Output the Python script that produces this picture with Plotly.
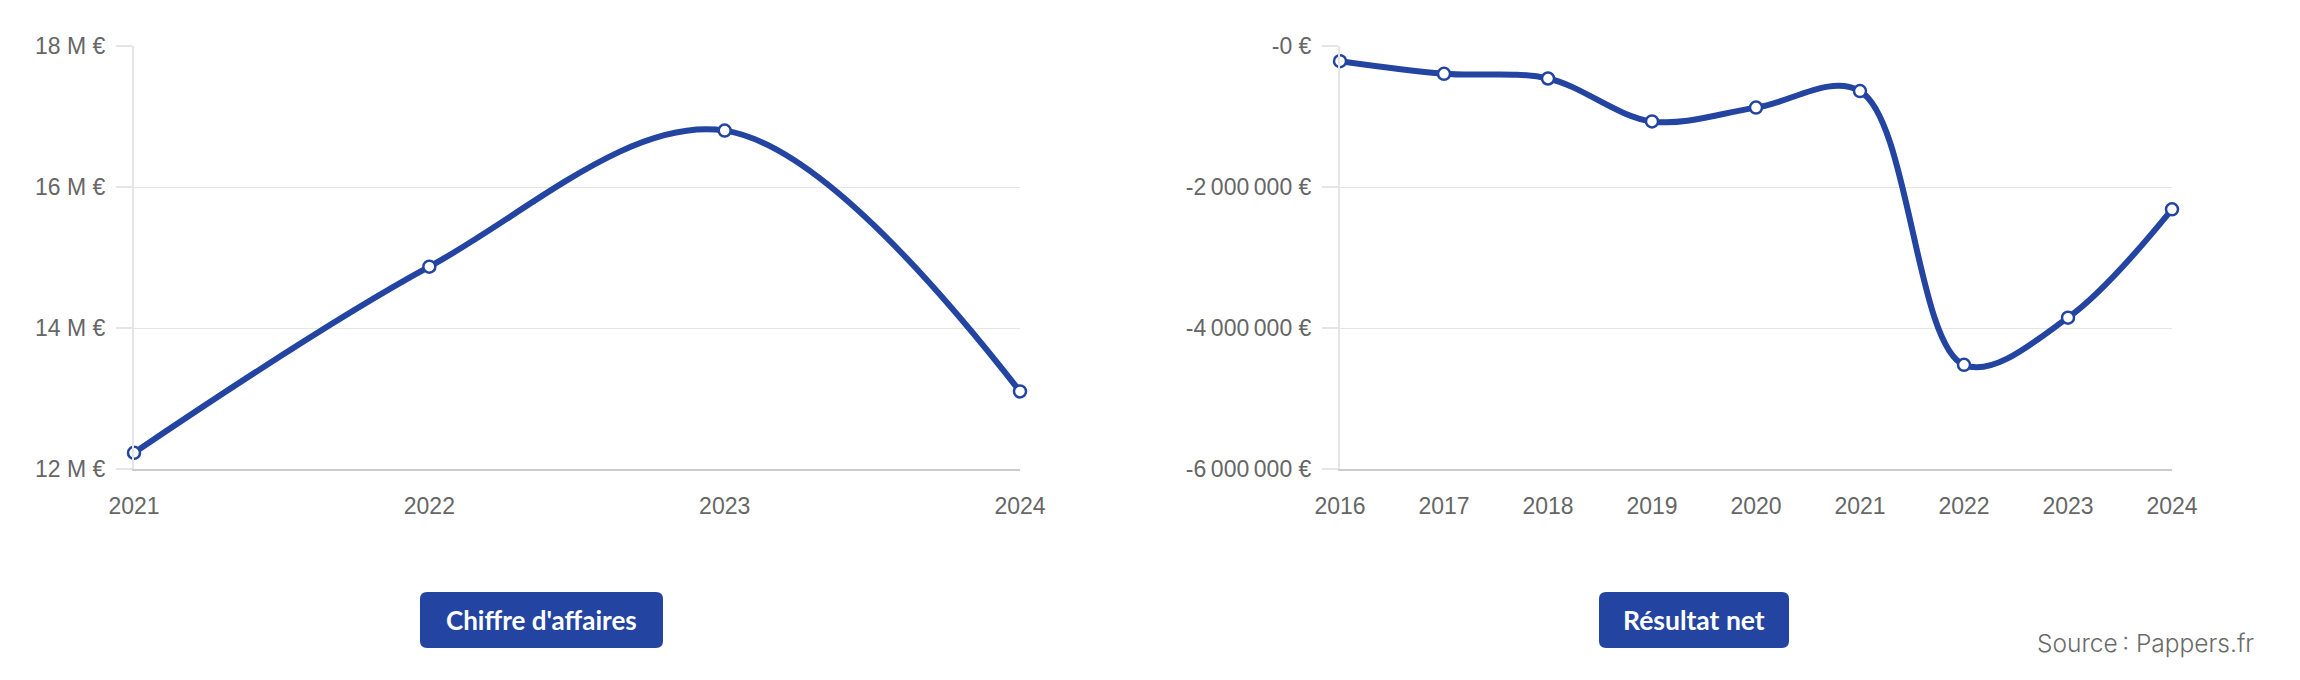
import plotly.graph_objects as go

# Chiffre d'affaires (en millions d'euros)
ca_years = [2021, 2022, 2023, 2024]
ca_values = [12.23, 14.87, 16.80, 13.10]
ca_ticks = [12, 14, 16, 18]
ca_ticktext = ["12 M €", "14 M €", "16 M €", "18 M €"]

# Résultat net (en euros)
rn_years = [2016, 2017, 2018, 2019, 2020, 2021, 2022, 2023, 2024]
rn_values = [-215000, -394000, -461000, -1070000, -874000, -640000, -4523000, -3853000, -2316000]
rn_ticks = [0, -2000000, -4000000, -6000000]
rn_ticktext = ["-0 €", "-2\u202f000\u202f000 €", "-4\u202f000\u202f000 €", "-6\u202f000\u202f000 €"]

BLUE = "#2345a1"
# the page body adds an 8px margin, so the figure is a bit smaller and every
# position below is given in page pixels then shifted by OFF
OFF = 8
W, H = 2300 - OFF, 680 - 2 * OFF


def px(x):
    return (x - OFF) / W


def py(y):
    return (H - (y - OFF)) / H


fig = go.Figure()

line_style = dict(color=BLUE, width=6, shape="spline", smoothing=1)
marker_style = dict(size=12, color="white", line=dict(color=BLUE, width=2.5))

fig.add_trace(go.Scatter(x=ca_years, y=ca_values, mode="lines+markers",
                         line=line_style, marker=marker_style, cliponaxis=False,
                         xaxis="x", yaxis="y", showlegend=False))
fig.add_trace(go.Scatter(x=rn_years, y=rn_values, mode="lines+markers",
                         line=line_style, marker=marker_style, cliponaxis=False,
                         xaxis="x2", yaxis="y2", showlegend=False))

tick_font = dict(family="Liberation Sans, Arial, sans-serif", size=23, color="#666666")
y_dom = [py(469), py(46)]

# automargin off so the domains stay where they are
xcommon = dict(showgrid=False, zeroline=False, showline=True, linecolor="#cccccc", linewidth=2,
               ticks="", tickfont=tick_font, ticklabelstandoff=15, dtick=1, automargin=False)
ycommon = dict(showgrid=True, gridcolor="#e5e5e5", gridwidth=1, zeroline=False, showline=True,
               linecolor="#e5e5e5", linewidth=2, ticks="outside", ticklen=16, tickcolor="#e5e5e5",
               tickwidth=2, tickfont=tick_font, ticklabelstandoff=6, automargin=False)

fig.update_layout(
    width=W, height=H,
    margin=dict(l=0, r=0, t=0, b=0),
    paper_bgcolor="white", plot_bgcolor="white",
    xaxis=dict(xcommon, domain=[px(134), px(1020)], range=[2021, 2024], anchor="y",
               tickvals=ca_years),
    yaxis=dict(ycommon, domain=y_dom, range=[12, 18], anchor="x",
               tickvals=ca_ticks, ticktext=ca_ticktext),
    xaxis2=dict(xcommon, domain=[px(1340), px(2172)], range=[2016, 2024], anchor="y2",
                tickvals=rn_years),
    yaxis2=dict(ycommon, domain=y_dom, range=[-6000000, 0], anchor="x2",
                tickvals=rn_ticks, ticktext=rn_ticktext),
)


def rounded_button(cx, cy, w, h, r, label, size):
    # rounded rectangle drawn in pixels around an anchor point
    hw, hh = w / 2, h / 2
    path = (f"M {-hw + r},{-hh} L {hw - r},{-hh} Q {hw},{-hh} {hw},{-hh + r} "
            f"L {hw},{hh - r} Q {hw},{hh} {hw - r},{hh} L {-hw + r},{hh} "
            f"Q {-hw},{hh} {-hw},{hh - r} L {-hw},{-hh + r} Q {-hw},{-hh} {-hw + r},{-hh} Z")
    fig.add_shape(type="path", xref="paper", yref="paper", xsizemode="pixel", ysizemode="pixel",
                  xanchor=px(cx), yanchor=py(cy), path=path,
                  fillcolor=BLUE, line=dict(width=0), layer="above")
    fig.add_annotation(x=px(cx), y=py(cy), xref="paper", yref="paper", text=label,
                       showarrow=False, xanchor="center", yanchor="middle",
                       font=dict(family="Lato, sans-serif", size=size, color="white", weight="bold"))


rounded_button(541.5, 620, 243, 56, 7, "Chiffre d'affaires", 26)
rounded_button(1694, 620, 190, 56, 7, "Résultat net", 26.5)

fig.add_annotation(x=px(2256), y=py(643), xref="paper", yref="paper",
                   text="Source\u202f: Pappers.fr", showarrow=False,
                   xanchor="right", yanchor="middle",
                   font=dict(family="Inter, sans-serif", size=24.5, color="#6b6b6b", weight=300))

fig.write_html("out.html")
